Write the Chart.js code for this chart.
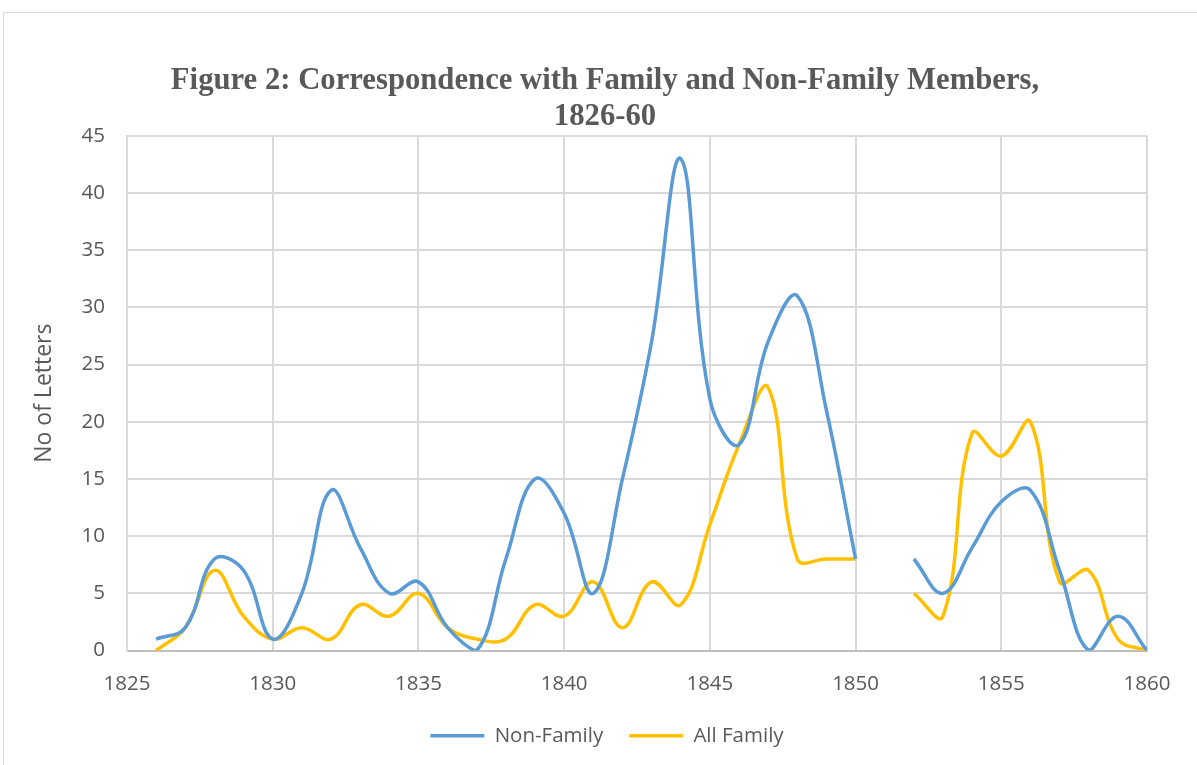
<!DOCTYPE html>
<html>
<head>
<meta charset="utf-8">
<script src="https://cdn.jsdelivr.net/npm/chart.js@4"></script>
<style>
  html, body { margin: 0; padding: 0; background: #fff; }
  #frame { position: absolute; left: 3px; top: 12px; width: 1220px; height: 780px; border: 1px solid #d9d9d9; }
  #wrap { position: absolute; left: 0; top: 0; width: 1197px; height: 765px; }
</style>
</head>
<body>
<div id="frame"></div>
<div id="wrap"><canvas id="myChart" width="1197" height="765"></canvas></div>
<script>
// yearly letter counts, 1851 missing
const years = [1826, 1827, 1828, 1829, 1830, 1831, 1832, 1833, 1834, 1835,
  1836, 1837, 1838, 1839, 1840, 1841, 1842, 1843, 1844, 1845,
  1846, 1847, 1848, 1849, 1850, 1851, 1852, 1853, 1854, 1855,
  1856, 1857, 1858, 1859, 1860];
const nonFamily = [1, 2, 8, 7, 1, 5, 14, 9, 5, 6,
  2, 0, 8, 15, 12, 5, 15, 27, 43, 22,
  18, 27, 31, 21, 8, null, 8, 5, 9, 13,
  14, 7, 0, 3, 0];
const allFamily = [0, 2, 7, 3, 1, 2, 1, 4, 3, 5,
  2, 1, 1, 4, 3, 6, 2, 6, 4, 11,
  18, 23, 8, 8, 8, null, 5, 3, 19, 17,
  20, 6, 7, 1, 0];
const xTicks = [1825, 1830, 1835, 1840, 1845, 1850, 1855, 1860];

const toPoints = vals => years.map((yr, i) => ({ x: yr, y: vals[i] }));
const grey = '#595959';
const tickFont = { family: "'Open Sans'", size: 20.5 };

// title and legend sit a bit right of the canvas centre in the original
const shiftBoxes = {
  id: 'shiftBoxes',
  afterLayout(chart) {
    if (chart.titleBlock) chart.titleBlock.left += 32;
    if (chart.legend) chart.legend.left += 36;
  }
};

const ctx = document.getElementById('myChart');

new Chart(ctx, {
  type: 'line',
  data: {
    datasets: [
      {
        label: 'Non-Family',
        data: toPoints(nonFamily),
        borderColor: '#5B9BD5',
        backgroundColor: '#5B9BD5',
        borderWidth: 3.5,
        pointRadius: 0,
        tension: 0.4,
        spanGaps: false
      },
      {
        label: 'All Family',
        data: toPoints(allFamily),
        borderColor: '#FFC000',
        backgroundColor: '#FFC000',
        borderWidth: 3.5,
        pointRadius: 0,
        tension: 0.4,
        spanGaps: false
      }
    ]
  },
  plugins: [shiftBoxes],
  options: {
    responsive: false,
    animation: false,
    layout: { padding: { left: 31, right: 50, top: 0, bottom: 9 } },
    plugins: {
      title: {
        display: true,
        text: ['Figure 2: Correspondence with Family and Non-Family Members,', '1826-60'],
        color: grey,
        font: { family: "'Liberation Serif'", size: 30.7, weight: 'bold', lineHeight: 1.17 },
        padding: { top: 63, bottom: 1 }
      },
      legend: {
        position: 'bottom',
        labels: {
          color: grey,
          font: tickFont,
          usePointStyle: true,
          pointStyle: 'line',
          pointStyleWidth: 54,
          boxWidth: 54,
          padding: 26
        }
      },
      tooltip: { enabled: false }
    },
    scales: {
      x: {
        type: 'linear',
        min: 1825,
        max: 1860,
        afterBuildTicks: axis => { axis.ticks = xTicks.map(v => ({ value: v })); },
        afterFit: scale => { scale.height = 49; },
        ticks: {
          color: grey,
          font: tickFont,
          padding: 21,
          callback: v => String(v)
        },
        grid: { color: '#d9d9d9', lineWidth: 2, drawTicks: false },
        border: { color: '#bfbfbf', width: 2 }
      },
      y: {
        min: 0,
        max: 45,
        afterFit: scale => { scale.width = 96; },
        ticks: { stepSize: 5, color: grey, font: tickFont, padding: 22 },
        grid: { color: '#d9d9d9', lineWidth: 2, drawTicks: false },
        border: { color: '#d9d9d9', width: 2 },
        title: {
          display: true,
          text: 'No of Letters',
          color: grey,
          font: { family: "'Open Sans'", size: 23 },
          padding: { top: 0, bottom: 0 }
        }
      }
    }
  }
});
</script>
</body>
</html>
